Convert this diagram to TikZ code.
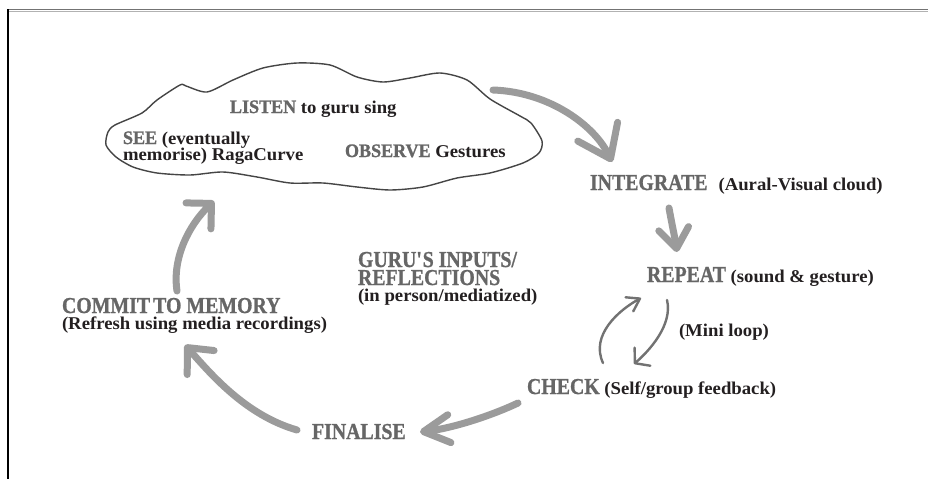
\documentclass[tikz,border=0pt]{standalone}
\usepackage{fontspec}
\setmainfont{Liberation Serif}
\newfontfamily\capfont[FakeStretch=0.87, BoldFeatures={FakeBold=0.9}]{Liberation Serif}
\newfontfamily\cloudcapfont[FakeStretch=0.95, BoldFeatures={FakeBold=1.2}]{Liberation Serif}
\newfontfamily\txtfont[FakeStretch=1.04]{Liberation Serif}
\usetikzlibrary{arrows.meta}

\definecolor{capgray}{HTML}{666666}
\definecolor{inkdark}{HTML}{231F20}
\definecolor{arrowgray}{HTML}{9B9B9B}
\definecolor{loopgray}{HTML}{727272}
\definecolor{cloudline}{HTML}{454545}

% grey capital keywords
\newcommand\outerword[1]{{\capfont\bfseries\fontsize{22.8}{23}\selectfont\color{capgray}#1}}
\newcommand\cloudword[1]{{\cloudcapfont\bfseries\fontsize{19}{20}\selectfont\color{capgray}#1}}

\tikzset{
  lbl/.style={anchor=base west, inner sep=0pt, outer sep=0pt,
    font=\txtfont\bfseries\fontsize{18}{18}\selectfont, text=inkdark},
  flow/.style={draw=arrowgray, line width=7pt, line cap=round},
  miniflow/.style={draw=loopgray, line width=2.4pt, line cap=round},
}

\begin{document}
\begin{tikzpicture}[x=1pt,y=-1pt]
\useasboundingbox (0,0) rectangle (928,479);
\fill[white] (0,0) rectangle (928,479);

% page frame (top and left edges)
\draw[line width=1.6pt, color=black!55] (8,9.6) -- (928,9.6);
\draw[line width=1pt, color=black!30] (8,11.2) -- (928,11.2);
\draw[line width=1.1pt, color=black] (8,9) -- (8,479);

% hand-drawn cloud
\draw[cloudline, line width=1.4pt, line join=round]
  plot[smooth cycle, tension=0.45] coordinates {
    (115,125) (142,113) (157,100) (180,85) (186,86) (207,92) (233,80)
    (263,68) (297,63) (330,65) (357,77) (383,82) (410,78) (440,73)
    (467,80) (490,99) (520,116) (531,123) (542,141) (539,153) (523,163)
    (490,173) (457,178) (423,187) (390,190) (357,187) (323,183) (290,183)
    (257,177) (223,172) (190,175) (157,173) (133,167) (116,157) (106,145)
    (108,132)};

% labels
\node[lbl] (listen)  at (230,113) {\cloudword{LISTEN} to guru sing};
\node[lbl] (seeA)    at (123,144) {\cloudword{SEE} (eventually};
\node[lbl] (seeB)    at (123,160) {memorise) RagaCurve};
\node[lbl] (observe) at (345,157) {\cloudword{OBSERVE} Gestures};

\node[lbl] (integrate) at (590,190) {\outerword{INTEGRATE}\hspace{11pt}(Aural-Visual cloud)};
\node[lbl] (repeat)    at (647,282) {\outerword{REPEAT} (sound \& gesture)};
\node[lbl] (miniloop)  at (679,336) {(Mini loop)};
\node[lbl] (check)     at (527,394) {\outerword{CHECK} (Self/group feedback)};
\node[lbl] (finalise)  at (312,439) {\outerword{FINALISE}};
\node[lbl] (commitA)   at (62,313)  {\outerword{COMMIT\hspace{3pt}TO MEMORY}};
\node[lbl] (commitB)   at (62,329)  {(Refresh using media recordings)};
\node[lbl] (guruA)     at (358,267) {\outerword{GURU\textquotesingle S INPUTS/}};
\node[lbl] (guruB)     at (358,285) {\outerword{REFLECTIONS}};
\node[lbl] (guruC)     at (358,301) {(in person/mediatized)};

% connector end points
\coordinate (a1s) at (493,90);  \coordinate (a1e) at (612,162);
\coordinate (a2s) at (669,208); \coordinate (a2e) at (677,252);
\coordinate (l1s) at (667,300); \coordinate (l1e) at (634,364);
\coordinate (l2s) at (603,363); \coordinate (l2e) at (641,298);
\coordinate (a4s) at (518,403); \coordinate (a4e) at (420,432);
\coordinate (a5s) at (297,430); \coordinate (a5e) at (185,345);
\coordinate (a6s) at (177,291); \coordinate (a6e) at (214,201);

% main cycle
\draw[flow, -{Straight Barb[length=30pt,width=44pt,round]}]
  (a1s) .. controls (550,92) and (595,126) .. (a1e);
\draw[flow, -{Straight Barb[length=20pt,width=30pt,round]}]
  (a2s) .. controls (672,225) and (675,238) .. (a2e);
\draw[flow, -{Straight Barb[length=26pt,width=28pt,round]}]
  (a4s) .. controls (495,414) and (455,428) .. (a4e);
\draw[flow, -{Straight Barb[length=20pt,width=36pt,round]}]
  (a5s) .. controls (245,415) and (210,373) .. (a5e);
\draw[flow, -{Straight Barb[length=18pt,width=36pt,round]}]
  (a6s) .. controls (172,258) and (189,225) .. (a6e);

% mini loop between REPEAT and CHECK
\draw[miniflow, -{Straight Barb[length=10pt,width=24pt,round]}]
  (l1s) .. controls (673,325) and (649,351) .. (l1e);
\draw[miniflow, -{Straight Barb[length=12pt,width=16pt,round]}]
  (l2s) .. controls (590,335) and (619,310) .. (l2e);
\end{tikzpicture}
\end{document}
